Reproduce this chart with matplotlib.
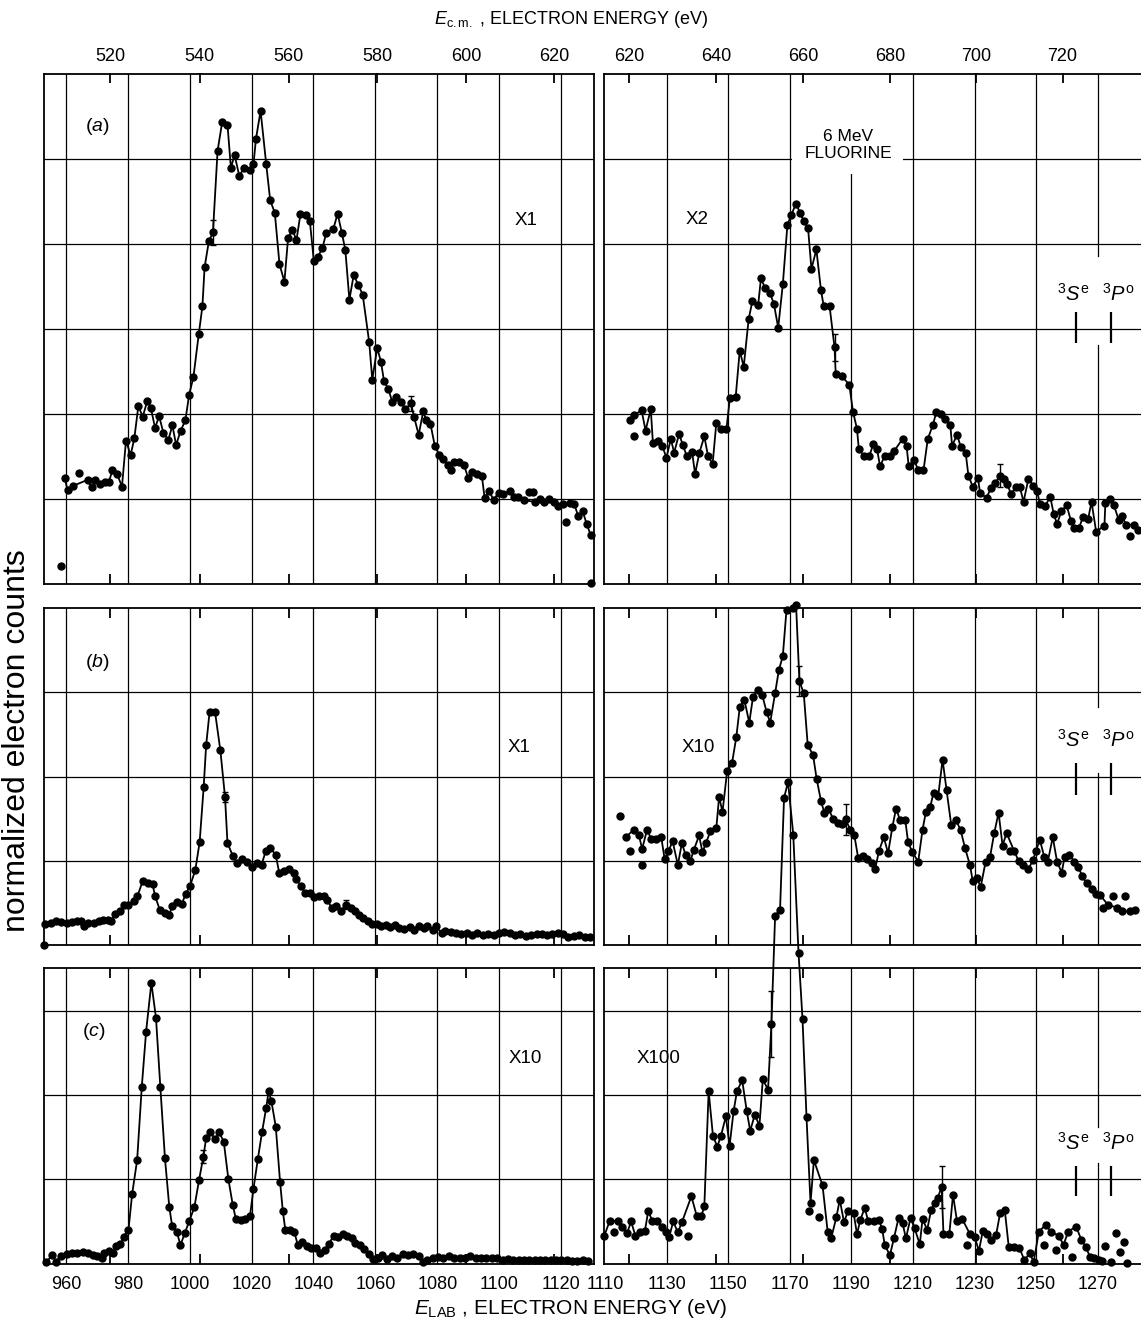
import numpy as np
import matplotlib.pyplot as plt
from matplotlib.patches import Rectangle

plt.rcParams['font.family'] = ['Liberation Sans', 'DejaVu Sans']
plt.rcParams['mathtext.fontset'] = 'custom'
plt.rcParams['mathtext.rm'] = 'Liberation Sans'
plt.rcParams['mathtext.it'] = 'Liberation Sans:italic'

# =========================
# DATI (E_LAB in eV, conteggi normalizzati in unita' di griglia)
# =========================

# (a) pannello sinistro, X1
a_left = [(959.6, 1.24), (960.5, 1.10), (962.4, 1.15), (967.0, 1.22), (968.3, 1.13), (969.5, 1.22),
          (970.9, 1.17), (972.6, 1.19), (973.9, 1.20), (975.0, 1.33), (976.5, 1.29), (978.1, 1.14),
          (979.4, 1.68), (980.9, 1.51), (982.1, 1.71), (983.4, 2.09), (984.8, 1.96), (986.3, 2.15),
          (987.4, 2.07), (988.8, 1.83), (990.1, 1.97), (991.5, 1.77), (993.1, 1.69), (994.4, 1.86),
          (995.6, 1.63), (997.1, 1.80), (998.6, 1.92), (999.8, 2.22), (1001.2, 2.43), (1002.9, 2.93),
          (1004.1, 3.26), (1004.8, 3.72), (1006.2, 4.03), (1007.5, 4.13), (1009.0, 5.09), (1010.5, 5.43),
          (1012.2, 5.40), (1013.3, 4.89), (1014.5, 5.04), (1016.0, 4.80), (1017.7, 4.89), (1019.5, 4.87),
          (1020.6, 4.93), (1021.4, 5.23), (1022.9, 5.56), (1024.7, 4.94), (1026.0, 4.51), (1027.5, 4.36),
          (1029.0, 3.76), (1030.6, 3.55), (1031.8, 4.07), (1033.2, 4.16), (1034.5, 4.04), (1035.8, 4.35),
          (1037.5, 4.33), (1038.8, 4.27), (1040.1, 3.80), (1041.4, 3.84), (1042.9, 3.95), (1044.1, 4.12),
          (1046.4, 4.17), (1047.8, 4.35), (1049.2, 4.12), (1050.3, 3.92), (1051.6, 3.34), (1053.0, 3.63),
          (1054.5, 3.51), (1055.9, 3.40), (1058.0, 2.84), (1059.0, 2.40), (1060.6, 2.77), (1061.8, 2.61),
          (1062.8, 2.38), (1064.2, 2.29), (1065.5, 2.13), (1066.8, 2.19), (1068.3, 2.14), (1069.7, 2.05),
          (1071.5, 2.12), (1072.5, 1.96), (1074.0, 1.75), (1075.5, 2.03), (1076.4, 1.92), (1077.8, 1.88),
          (1079.2, 1.62), (1080.7, 1.51), (1081.9, 1.46), (1083.4, 1.40), (1084.4, 1.33), (1085.4, 1.43),
          (1087.1, 1.43), (1088.6, 1.40), (1090.0, 1.24), (1091.1, 1.31), (1092.8, 1.29), (1094.4, 1.27),
          (1095.3, 1.01), (1096.8, 1.09), (1098.2, 0.98), (1099.8, 1.07), (1101.3, 1.05), (1103.4, 1.09),
          (1104.8, 1.02), (1106.1, 1.02), (1107.9, 0.98), (1111.6, 0.96), (1113.1, 0.99), (1114.6, 0.96),
          (1116.0, 1.00), (1117.7, 0.96), (1118.9, 0.91), (1120.6, 0.93), (1122.9, 0.95), (1124.3, 0.93),
          (1125.6, 0.79), (1127.0, 0.85), (1128.3, 0.70), (1129.6, 0.57)]
a_left_extra = [(958.4, 0.21), (964.2, 1.30), (1109.6, 1.08), (1110.8, 1.08), (1121.7, 0.72), (1129.6, 0.01)]
a_left_err = [(1007.5, 4.13, 0.15), (1071.5, 2.12, 0.09)]

# (a) pannello destro, X2
a_right = [(1117.9, 1.92), (1119.5, 1.98), (1121.8, 2.04), (1123.1, 1.80), (1124.8, 2.05), (1125.5, 1.65),
           (1127.1, 1.68), (1128.5, 1.62), (1129.9, 1.48), (1131.3, 1.70), (1132.4, 1.54), (1134.0, 1.76),
           (1135.2, 1.63), (1136.5, 1.50), (1138.2, 1.55), (1139.2, 1.29), (1140.6, 1.54), (1142.2, 1.73),
           (1143.4, 1.50), (1144.9, 1.41), (1146.1, 1.89), (1147.5, 1.82), (1149.4, 1.82), (1150.5, 2.18),
           (1152.4, 2.20), (1153.7, 2.74), (1155.0, 2.55), (1156.6, 3.11), (1157.8, 3.32), (1159.7, 3.28),
           (1160.6, 3.59), (1161.9, 3.48), (1163.5, 3.42), (1164.8, 3.29), (1166.2, 3.01), (1167.7, 3.52),
           (1169.2, 4.22), (1170.5, 4.34), (1172.0, 4.47), (1173.3, 4.36), (1174.6, 4.26), (1175.9, 4.18),
           (1177.0, 3.70), (1178.6, 3.93), (1180.1, 3.45), (1181.0, 3.26), (1182.9, 3.26), (1184.5, 2.78),
           (1184.9, 2.46), (1186.8, 2.44), (1189.3, 2.34), (1190.5, 2.02), (1191.8, 1.82), (1192.4, 1.58),
           (1194.1, 1.50), (1195.8, 1.50), (1197.1, 1.64), (1198.3, 1.58), (1199.3, 1.38), (1200.8, 1.50),
           (1202.5, 1.50), (1203.9, 1.56), (1206.6, 1.70), (1207.9, 1.62), (1208.6, 1.38), (1210.3, 1.45),
           (1211.7, 1.34), (1213.4, 1.33), (1214.8, 1.70), (1216.5, 1.87), (1217.6, 2.02), (1219.0, 2.00),
           (1220.4, 1.94), (1222.1, 1.87), (1222.7, 1.62), (1224.3, 1.75), (1225.5, 1.61), (1227.1, 1.54),
           (1228.0, 1.27), (1229.4, 1.14), (1231.1, 1.24), (1231.8, 1.06), (1233.9, 1.01), (1235.3, 1.12),
           (1236.7, 1.18), (1238.3, 1.27), (1239.7, 1.23), (1240.6, 1.17), (1241.9, 1.05), (1243.4, 1.14),
           (1244.7, 1.14), (1245.9, 0.96), (1247.5, 1.23), (1249.1, 1.15), (1250.3, 1.09), (1251.2, 0.94),
           (1252.9, 0.91), (1254.6, 1.02), (1255.7, 0.82), (1256.8, 0.70), (1258.2, 0.85), (1259.9, 0.92),
           (1261.3, 0.74), (1262.4, 0.65), (1263.9, 0.65), (1265.2, 0.78), (1266.9, 0.76), (1268.0, 0.96),
           (1269.5, 0.61), (1272.2, 0.68), (1272.5, 0.95), (1274.0, 1.00), (1275.3, 0.92), (1276.8, 0.75),
           (1277.9, 0.79), (1279.3, 0.69), (1281.8, 0.69), (1283.2, 0.63)]
a_right_extra = [(1119.2, 1.74), (1280.6, 0.56)]
a_right_err = [(1184.5, 2.78, 0.16), (1238.3, 1.27, 0.14)]

# (b) pannello sinistro, X1
b_left = [(953.3, 0.25), (955.1, 0.26), (956.8, 0.28), (958.5, 0.27), (960.3, 0.26), (962.0, 0.27),
          (963.7, 0.28), (964.9, 0.29), (965.7, 0.23), (967.2, 0.26), (968.9, 0.26), (970.6, 0.28),
          (972.1, 0.30), (973.5, 0.30), (974.7, 0.28), (975.8, 0.37), (977.6, 0.40), (978.7, 0.48),
          (980.2, 0.48), (982.0, 0.52), (983.1, 0.58), (984.8, 0.76), (986.5, 0.74), (988.0, 0.72),
          (988.8, 0.58), (990.3, 0.42), (992.0, 0.38), (993.4, 0.36), (994.3, 0.46), (996.0, 0.51),
          (997.5, 0.49), (998.7, 0.61), (1000.1, 0.70), (1001.8, 0.89), (1003.2, 1.22), (1004.5, 1.87),
          (1005.3, 2.37), (1006.4, 2.76), (1008.2, 2.76), (1009.9, 2.31), (1011.4, 1.76), (1012.2, 1.21),
          (1013.9, 1.06), (1015.3, 0.97), (1017.0, 1.02), (1018.6, 0.99), (1020.1, 0.92), (1021.7, 0.97),
          (1023.2, 0.95), (1024.6, 1.12), (1026.1, 1.15), (1027.8, 1.07), (1028.9, 0.86), (1030.4, 0.88),
          (1032.1, 0.90), (1033.6, 0.86), (1034.5, 0.78), (1035.9, 0.70), (1037.3, 0.62), (1038.8, 0.62),
          (1040.3, 0.57), (1041.9, 0.58), (1043.4, 0.58), (1044.5, 0.53), (1045.9, 0.44), (1047.4, 0.46),
          (1048.9, 0.40), (1050.5, 0.48), (1052.0, 0.44), (1053.4, 0.40), (1054.7, 0.36), (1056.1, 0.32),
          (1057.5, 0.28), (1059.0, 0.25), (1060.5, 0.25), (1061.8, 0.22), (1063.3, 0.24), (1064.7, 0.21),
          (1066.5, 0.24), (1067.6, 0.20), (1069.3, 0.19), (1071.1, 0.21), (1072.6, 0.18), (1074.0, 0.23),
          (1075.7, 0.20), (1076.8, 0.23), (1078.6, 0.18), (1079.5, 0.22), (1081.5, 0.14), (1082.6, 0.17),
          (1084.4, 0.15), (1086.1, 0.14), (1087.8, 0.13), (1089.5, 0.14), (1091.3, 0.12), (1093.0, 0.14),
          (1094.7, 0.12), (1096.5, 0.13), (1098.2, 0.12), (1099.9, 0.14), (1101.7, 0.15), (1103.4, 0.14),
          (1105.1, 0.12), (1106.9, 0.13), (1108.6, 0.11), (1110.3, 0.12), (1112.1, 0.13), (1113.8, 0.13),
          (1115.5, 0.12), (1117.2, 0.13), (1119.0, 0.14), (1120.7, 0.13), (1122.4, 0.10), (1124.2, 0.11),
          (1125.9, 0.12), (1127.6, 0.10), (1129.4, 0.09)]
b_left_extra = [(952.9, 0.0)]
b_left_err = [(1011.4, 1.76, 0.06), (1050.5, 0.48, 0.05)]

# (b) pannello destro, X10
b_right = [(1116.7, 1.28), (1119.3, 1.37), (1120.9, 1.31), (1122.0, 1.14), (1123.6, 1.37), (1124.9, 1.26),
           (1126.5, 1.26), (1128.2, 1.28), (1129.3, 1.02), (1130.5, 1.11), (1131.9, 1.23), (1133.6, 0.95),
           (1134.9, 1.21), (1136.1, 1.07), (1137.7, 1.00), (1138.8, 1.13), (1140.5, 1.30), (1141.6, 1.10),
           (1142.7, 1.21), (1144.2, 1.35), (1146.1, 1.39), (1147.0, 1.76), (1148.1, 1.58), (1149.6, 2.06),
           (1151.2, 2.16), (1152.6, 2.47), (1153.7, 2.82), (1155.2, 2.91), (1156.8, 2.64), (1158.0, 2.94),
           (1159.6, 3.03), (1161.0, 2.97), (1162.4, 2.77), (1163.6, 2.64), (1165.2, 2.99), (1166.4, 3.26),
           (1167.7, 3.43), (1168.9, 3.98), (1170.9, 4.00), (1172.0, 4.04), (1173.1, 3.13), (1174.5, 2.99),
           (1175.8, 2.37), (1177.5, 2.26), (1178.7, 1.97), (1180.1, 1.71), (1181.2, 1.57), (1182.5, 1.62),
           (1184.0, 1.50), (1185.7, 1.45), (1186.8, 1.44), (1188.1, 1.49), (1189.6, 1.37), (1190.9, 1.31),
           (1192.2, 1.03), (1193.7, 1.06), (1195.2, 1.02), (1196.7, 0.97), (1197.7, 0.90), (1198.9, 1.11),
           (1200.5, 1.28), (1201.9, 1.09), (1203.3, 1.40), (1204.5, 1.62), (1205.8, 1.48), (1207.5, 1.48),
           (1208.4, 1.22), (1209.8, 1.10), (1211.7, 0.99), (1213.1, 1.37), (1214.2, 1.58), (1215.6, 1.64),
           (1216.7, 1.81), (1218.2, 1.77), (1219.6, 2.20), (1220.9, 1.84), (1222.4, 1.43), (1224.0, 1.48),
           (1225.5, 1.36), (1226.9, 1.15), (1228.5, 0.95), (1229.4, 0.76), (1230.7, 0.80), (1232.0, 0.69),
           (1233.6, 0.99), (1235.0, 1.04), (1236.4, 1.33), (1237.8, 1.57), (1239.1, 1.18), (1240.4, 1.33),
           (1242.8, 1.12), (1244.3, 1.00), (1245.8, 0.95), (1247.5, 0.90), (1249.0, 1.01), (1249.9, 1.11),
           (1251.2, 1.25), (1252.7, 1.04), (1253.8, 0.99), (1255.4, 1.28), (1256.8, 0.99), (1258.3, 0.86),
           (1259.3, 1.05), (1260.8, 1.07), (1262.4, 0.99), (1263.6, 0.93), (1265.0, 0.82), (1266.4, 0.73),
           (1268.0, 0.66), (1269.4, 0.61), (1270.8, 0.59), (1273.3, 0.48), (1276.4, 0.44), (1277.8, 0.40),
           (1280.4, 0.40), (1282.0, 0.42)]
b_right_extra = [(1114.8, 1.53), (1117.9, 1.12), (1122.0, 0.95), (1241.5, 1.11), (1271.7, 0.44),
                 (1275.0, 0.58), (1278.9, 0.58)]
b_right_err = [(1173.1, 3.13, 0.18), (1188.1, 1.49, 0.18)]

# (c) pannello sinistro, X10
c_left = [(953.7, 0.02), (955.6, 0.10), (956.8, 0.02), (958.3, 0.09), (960.3, 0.11), (962.0, 0.12),
          (963.7, 0.13), (965.5, 0.14), (967.0, 0.12), (968.6, 0.10), (970.1, 0.09), (971.5, 0.07),
          (972.4, 0.13), (973.9, 0.15), (975.3, 0.12), (976.1, 0.21), (977.6, 0.23), (978.7, 0.32),
          (980.2, 0.40), (981.4, 0.83), (983.0, 1.23), (984.5, 2.10), (985.9, 2.76), (987.6, 3.34),
          (989.1, 2.92), (990.5, 2.10), (992.0, 1.25), (993.4, 0.67), (994.3, 0.45), (995.8, 0.38),
          (997.0, 0.22), (998.4, 0.36), (999.9, 0.51), (1001.5, 0.67), (1003.0, 0.99), (1004.4, 1.27),
          (1005.3, 1.49), (1006.7, 1.56), (1008.2, 1.48), (1009.5, 1.56), (1011.0, 1.45), (1012.5, 1.00),
          (1013.9, 0.70), (1014.9, 0.53), (1016.5, 0.52), (1018.0, 0.53), (1019.5, 0.57), (1020.6, 0.89),
          (1022.0, 1.24), (1023.4, 1.57), (1024.7, 1.85), (1025.5, 2.05), (1026.4, 1.93), (1027.8, 1.63),
          (1029.2, 0.97), (1030.1, 0.62), (1030.9, 0.40), (1032.4, 0.40), (1033.8, 0.38), (1034.9, 0.22),
          (1036.4, 0.25), (1037.9, 0.21), (1039.3, 0.19), (1040.7, 0.18), (1042.0, 0.13), (1043.6, 0.16),
          (1044.9, 0.23), (1046.5, 0.33), (1048.0, 0.31), (1049.4, 0.35), (1050.9, 0.33), (1052.3, 0.30),
          (1053.4, 0.24), (1054.9, 0.22), (1056.4, 0.17), (1057.8, 0.11), (1059.3, 0.05), (1060.7, 0.07),
          (1062.2, 0.10), (1063.8, 0.05), (1065.3, 0.09), (1067.0, 0.07), (1068.8, 0.11), (1070.5, 0.10),
          (1072.2, 0.11), (1074.0, 0.09), (1075.3, 0.02), (1076.8, 0.04), (1078.6, 0.06), (1080.3, 0.08),
          (1082.0, 0.06), (1083.8, 0.09), (1085.5, 0.06), (1087.2, 0.07), (1089.0, 0.06), (1090.7, 0.09),
          (1092.4, 0.06), (1094.2, 0.06), (1095.9, 0.06), (1097.6, 0.07), (1099.4, 0.06), (1101.1, 0.04),
          (1102.8, 0.05), (1104.6, 0.04), (1106.3, 0.04), (1108.0, 0.04), (1109.7, 0.04), (1111.5, 0.04),
          (1113.2, 0.04), (1114.9, 0.04), (1116.7, 0.04), (1118.4, 0.04), (1120.1, 0.04), (1121.9, 0.04),
          (1123.6, 0.03), (1125.3, 0.03), (1127.1, 0.04), (1128.8, 0.03)]
c_left_extra = []
c_left_err = [(1004.4, 1.27, 0.08)]

# (c) pannello destro, X100 (il picco esce dal pannello)
c_right = [(1109.7, 0.33), (1111.5, 0.51), (1114.2, 0.50), (1115.6, 0.43), (1117.1, 0.36), (1118.4, 0.50),
           (1119.8, 0.33), (1121.3, 0.38), (1122.9, 0.39), (1124.0, 0.63), (1125.2, 0.51), (1126.8, 0.50),
           (1128.3, 0.43), (1129.6, 0.38), (1130.8, 0.32), (1132.1, 0.50), (1133.6, 0.37), (1134.9, 0.49),
           (1138.0, 0.80), (1139.7, 0.57), (1141.2, 0.56), (1142.2, 0.68), (1143.6, 2.05), (1145.0, 1.52),
           (1146.4, 1.39), (1147.6, 1.52), (1149.2, 1.75), (1150.4, 1.40), (1151.7, 1.81), (1152.8, 2.05),
           (1154.5, 2.18), (1156.0, 1.81), (1157.1, 1.58), (1158.6, 1.77), (1160.1, 1.64), (1161.2, 2.19),
           (1162.9, 2.07), (1164.0, 2.85), (1165.2, 4.14), (1166.8, 4.21), (1168.1, 5.54), (1169.4, 5.73),
           (1171.1, 5.10), (1172.8, 3.70), (1174.1, 2.91), (1175.4, 1.74), (1176.7, 0.72), (1177.8, 1.23),
           (1180.6, 0.93), (1182.3, 0.37), (1183.4, 0.30), (1185.1, 0.55), (1186.2, 0.76), (1187.6, 0.49),
           (1188.8, 0.62), (1190.7, 0.60), (1191.8, 0.35), (1192.9, 0.52), (1194.3, 0.66), (1195.5, 0.50),
           (1197.2, 0.50), (1198.9, 0.52), (1200.0, 0.41), (1200.8, 0.22), (1202.5, 0.10), (1203.8, 0.30),
           (1205.3, 0.54), (1206.6, 0.48), (1207.7, 0.30), (1209.2, 0.54), (1210.5, 0.42), (1212.2, 0.23),
           (1213.1, 0.53), (1214.6, 0.40), (1215.9, 0.64), (1217.0, 0.72), (1218.0, 0.78), (1219.3, 0.91),
           (1219.9, 0.35), (1221.8, 0.35), (1223.0, 0.82), (1224.3, 0.50), (1226.0, 0.53), (1228.5, 0.35),
           (1230.0, 0.32), (1231.4, 0.15), (1232.7, 0.39), (1234.1, 0.35), (1235.5, 0.28), (1237.0, 0.34),
           (1238.3, 0.60), (1239.8, 0.64), (1241.1, 0.20), (1242.8, 0.20), (1244.5, 0.19), (1246.2, 0.04),
           (1247.9, 0.12), (1249.2, 0.02), (1250.9, 0.38), (1253.1, 0.46), (1254.8, 0.38), (1257.4, 0.33),
           (1258.9, 0.22), (1260.4, 0.38), (1263.0, 0.44), (1264.7, 0.28), (1266.1, 0.20), (1267.5, 0.08),
           (1268.8, 0.07), (1270.3, 0.04), (1271.4, 0.03)]
c_right_extra = [(1113.0, 0.37), (1136.9, 0.33), (1176.2, 0.62), (1179.5, 0.55), (1227.4, 0.22),
                 (1252.6, 0.22), (1256.3, 0.16), (1261.6, 0.08), (1272.5, 0.21), (1274.2, 0.02),
                 (1275.9, 0.36), (1277.3, 0.14), (1278.7, 0.26), (1279.6, 0.01)]
c_right_err = [(1164.0, 2.85, 0.39), (1219.3, 0.91, 0.25)]

scale_labels = [['X1', 'X2'], ['X1', 'X10'], ['X10', 'X100']]
panel_tags = ['($a$)', '($b$)', '($c$)']

lab_grid_left = [960, 980, 1000, 1020, 1040, 1060, 1080, 1100, 1120]
lab_grid_right = [1130, 1150, 1170, 1190, 1210, 1230, 1250, 1270]
lab_ticks_right = [1110] + lab_grid_right
cm_ticks_left = [520, 540, 560, 580, 600, 620]
cm_ticks_right = [620, 640, 660, 680, 700, 720]


# conversione E_LAB <-> E_cm (sqrt(E_lab) = k*sqrt(E_cm) + c)
def lab_to_cm(e):
    e = np.clip(np.asarray(e, dtype=float), 60.0, None)
    return ((np.sqrt(e) - 7.093) / 1.0578) ** 2


def cm_to_lab(c):
    c = np.clip(np.asarray(c, dtype=float), 0.0, None)
    return (1.0578 * np.sqrt(c) + 7.093) ** 2


W, H = 1141, 1323
fig = plt.figure(figsize=(W / 100, H / 100), dpi=100)


def px_axes(x0, x1, y0, y1):
    return fig.add_axes([x0 / W, 1 - y1 / H, (x1 - x0) / W, (y1 - y0) / H])


rows = [(73.5, 583.5, 6.0), (608.0, 945.0, 4.0), (967.7, 1263.5, 3.52)]
cols = [(44.0, 593.5, (952.9, 1130.5)), (604.3, 1150.0, (1109.7, 1287.0))]

data = [[(a_left, a_left_extra, a_left_err), (a_right, a_right_extra, a_right_err)],
        [(b_left, b_left_extra, b_left_err), (b_right, b_right_extra, b_right_err)],
        [(c_left, c_left_extra, c_left_err), (c_right, c_right_extra, c_right_err)]]

# gap nella riga verticale a 1270 dietro le etichette 3S/3P
gaps_1270 = [(2.81, 3.85), (2.04, 2.83), (1.20, 1.63)]
# posizione etichette e segni 3S^e / 3P^o: (y testo, y0 segno, y1 segno)
state_marks = [(3.41, 2.83, 3.19), (2.43, 1.78, 2.16), (1.43, 0.80, 1.16)]
tag_pos = [(970.0, 5.38), (970.0, 3.35), (968.9, 2.76)]
scale_pos = [[(1108.6, 4.27), (1139.7, 4.28)],
             [(1106.3, 2.35), (1140.1, 2.35)],
             [(1108.6, 2.44), (1127.2, 2.44)]]

for r, (y0, y1, ytop) in enumerate(rows):
    for c, (x0, x1, xlim) in enumerate(cols):
        ax = px_axes(x0, x1, y0, y1)
        ax.set_xlim(*xlim)
        ax.set_ylim(0, ytop)
        ax.set_yticks([])
        for s in ax.spines.values():
            s.set_linewidth(1.3)
        if c == 1:
            ax.spines['right'].set_visible(False)

        grid_x = lab_grid_left if c == 0 else lab_grid_right
        for e in grid_x:
            if c == 1 and e == 1270:
                g0, g1 = gaps_1270[r]
                ax.axvline(e, 0, g0 / ytop, color='black', lw=0.9, zorder=1)
                ax.axvline(e, g1 / ytop, 1, color='black', lw=0.9, zorder=1)
            else:
                ax.axvline(e, color='black', lw=0.9, zorder=1)
        for v in range(1, int(ytop) + 1):
            if v < ytop - 0.05:
                ax.axhline(v, color='black', lw=0.9, zorder=1)

        # asse E_LAB (etichette solo in basso)
        ax.set_xticks(lab_grid_left if c == 0 else lab_ticks_right)
        ax.tick_params(axis='x', length=0, labelsize=13, pad=9)
        if r != 2:
            ax.set_xticklabels([])

        # tacche E_cm sopra e sotto
        for side in ('top', 'bottom'):
            sec = ax.secondary_xaxis(side, functions=(lab_to_cm, cm_to_lab))
            sec.set_xticks(cm_ticks_left if c == 0 else cm_ticks_right)
            sec.tick_params(direction='in', length=7, width=1.3, labelsize=13, pad=6)
            sec.spines[side].set_visible(False)
            if not (r == 0 and side == 'top'):
                sec.set_xticklabels([])

        pts, extra, err = data[r][c]
        E = [p[0] for p in pts]
        Y = [p[1] for p in pts]
        ax.plot(E, Y, '-o', color='black', lw=1.3, ms=5, clip_on=False, zorder=3)
        if extra:
            ax.plot([p[0] for p in extra], [p[1] for p in extra], 'o', color='black',
                    ms=5, clip_on=False, zorder=3)
        ax.errorbar([p[0] for p in err], [p[1] for p in err], yerr=[p[2] for p in err],
                    fmt='none', ecolor='black', elinewidth=1.0, capsize=2.5, zorder=3)

        sx, sy = scale_pos[r][c]
        ax.text(sx, sy, scale_labels[r][c], fontsize=13.5, ha='center', va='center', zorder=4)

        if c == 0:
            tx, ty = tag_pos[r]
            ax.text(tx, ty, panel_tags[r], fontsize=14, ha='center', va='center', zorder=4)
        else:
            yt, m0, m1 = state_marks[r]
            ax.text(1262.1, yt, r'$^{3}S^{\rm e}$', fontsize=14.5, ha='center', va='center', zorder=4)
            ax.text(1276.6, yt, r'$^{3}P^{\rm o}$', fontsize=14.5, ha='center', va='center', zorder=4)
            ax.vlines([1262.9, 1274.2], m0, m1, color='black', lw=1.6, zorder=4)

        if r == 0 and c == 1:
            # fondo bianco dietro la scritta (interrompe la griglia)
            ax.add_patch(Rectangle((1170.6, 4.82), 36.2, 0.73, facecolor='white',
                                   edgecolor='none', zorder=2))
            ax.add_patch(Rectangle((1187.5, 5.5), 5.0, 0.5, facecolor='white',
                                   edgecolor='none', zorder=2))
            ax.text(1188.9, 5.16, '6 MeV\nFLUORINE', fontsize=12.5, ha='center',
                    va='center', linespacing=1.15, zorder=4)

fig.text(571 / W, 1 - 19 / H, r'$E_{\rm c.m.}$ , ELECTRON ENERGY (eV)', fontsize=13,
         ha='center', va='center')
fig.text(571 / W, 1 - 1309 / H, r'$E_{\rm LAB}$ , ELECTRON ENERGY (eV)', fontsize=15,
         ha='center', va='center')
fig.text(17 / W, 1 - 741 / H, 'normalized electron counts', fontsize=23, rotation=90,
         ha='center', va='center')

fig.savefig('out.png', dpi=100)
